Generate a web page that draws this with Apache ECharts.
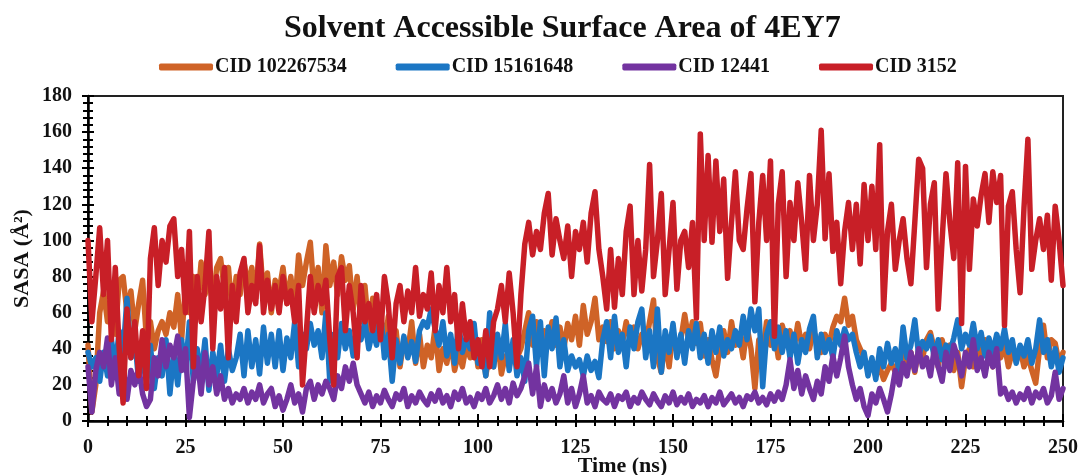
<!DOCTYPE html>
<html>
<head>
<meta charset="utf-8">
<script src="https://cdn.jsdelivr.net/npm/echarts@6/dist/echarts.min.js"></script>
<style>
  html, body { margin: 0; padding: 0; background: #fff; }
  #chart { width: 1079px; height: 475px; }
</style>
</head>
<body>
<div id="chart"></div>
<script>
// SASA (Å²) per ns, t = 0..250
const TIME_STEP = 1

const cid102267534 = [
  42, 5, 20, 60, 72, 55, 70, 48, 78, 80,
  60, 72, 50, 65, 78, 45, 55, 40, 50, 55,
  48, 60, 52, 70, 45, 75, 60, 80, 62, 88,
  70, 80, 65, 85, 90, 72, 85, 60, 80, 70,
  88, 75, 85, 68, 98, 70, 82, 60, 78, 72,
  85, 65, 80, 62, 92, 75, 88, 99, 70, 85,
  60, 97, 75, 88, 70, 91, 78, 86, 62, 80,
  55, 75, 50, 68, 45, 62, 40, 58, 35, 50,
  30, 45, 38, 55, 32, 48, 30, 42, 35, 52,
  28, 40, 32, 45, 28, 38, 30, 42, 35, 48,
  30, 45, 25, 38, 30, 45, 26, 36, 30, 42,
  35, 40, 50, 60, 42, 55, 38, 50, 45, 55,
  42, 52, 40, 54, 45, 58, 42, 64, 48, 55,
  68, 45, 52, 44, 55, 40, 50, 43, 55, 45,
  52, 40, 48, 42, 55, 67, 35, 27, 45, 30,
  50, 38, 45, 59, 45, 55, 43, 54, 36, 45,
  34, 25, 40, 50, 38, 55, 42, 48, 35, 52,
  40, 18, 45, 38, 55, 42, 50, 35, 53, 45,
  50, 40, 54, 42, 48, 40, 50, 44, 38, 48,
  42, 52, 58, 55, 68, 53, 58, 45, 40, 35,
  30, 32, 25, 30, 23, 28, 32, 27, 35, 43,
  30, 38, 27, 40, 35, 45, 49, 40, 30, 45,
  35, 42, 28, 38, 19, 35, 40, 30, 42, 35,
  45, 38, 30, 40, 35, 42, 30, 38, 33, 40,
  30, 36, 28, 21, 40, 53, 35, 45, 43, 32,
  38
]

const cid15161648 = [
  38, 30, 35, 22, 38, 25, 45, 30, 50, 38,
  68, 35, 45, 22, 40, 20, 42, 18, 35, 25,
  45, 15, 38, 20, 45, 28, 55, 22, 40, 25,
  45, 17, 38, 25, 42, 22, 40, 28, 35, 48,
  25, 50, 30, 45, 26, 52, 32, 48, 30, 50,
  28, 46, 35, 55, 30, 48, 40, 54, 42, 50,
  35, 60, 22, 48, 35, 54, 40, 50, 36, 52,
  45, 55, 40, 50, 42, 60, 35, 48, 22, 45,
  32, 47, 35, 44, 33, 50, 55, 52, 62, 51,
  42, 55, 36, 48, 32, 54, 38, 46, 40, 54,
  32, 40, 25, 60, 30, 48, 35, 54, 28, 45,
  25, 35, 22, 50, 58, 30, 55, 25, 52, 40,
  57, 30, 45, 28, 36, 30, 34, 25, 36, 28,
  33, 24, 45, 55, 35, 58, 38, 48, 30, 52,
  40, 55, 62, 35, 50, 30, 62, 27, 50, 38,
  54, 35, 48, 32, 50, 40, 54, 35, 48, 32,
  50, 38, 52, 36, 45, 40, 50, 42, 58, 45,
  62, 50, 62, 19, 48, 55, 40, 52, 38, 50,
  35, 48, 32, 45, 38, 51, 58, 35, 48, 38,
  45, 35, 50, 42, 51, 45, 48, 38, 30, 38,
  25, 35, 23, 40, 30, 43, 32, 40, 27, 52,
  35, 42, 56, 36, 44, 40, 47, 35, 45, 34,
  42, 38, 46, 56, 40, 48, 42, 54, 40, 49,
  36, 46, 38, 48, 40, 51, 38, 45, 32, 42,
  36, 45, 32, 40, 56, 38, 45, 30, 40, 27,
  35
]

const cid12441 = [
  30, 5, 28, 38, 30, 46, 20, 35, 15, 30,
  12, 28, 20, 30, 15, 8, 12, 35, 25, 45,
  30, 42, 35, 47, 28, 40, 2, 22, 35, 15,
  38, 20, 30, 15, 25, 12, 18, 10, 15, 12,
  18, 10, 16, 12, 20, 10, 15, 18, 8, 14,
  6, 12, 20, 10, 15, 5, 18, 22, 12, 20,
  15, 22, 18, 12, 25, 18, 30, 22, 32, 20,
  15, 10, 16, 8, 14, 10, 17, 12, 8, 15,
  12, 18, 8, 14, 10, 16, 12, 9, 15, 11,
  17, 10, 14, 8, 16, 12, 18, 10, 13, 8,
  15, 12, 18, 10, 14, 20, 12, 18, 10, 21,
  14, 18, 25, 32, 15, 30, 8, 20, 12, 18,
  10, 15, 25, 10, 18, 8, 15, 25, 10, 14,
  8, 16, 12, 10, 15, 8, 14, 12, 16, 8,
  13, 10, 16, 12, 9, 15, 11, 8, 14, 10,
  16, 9, 13, 10, 15, 8, 12, 10, 14, 8,
  13, 10, 16, 9, 12, 15, 10, 13, 8, 14,
  12, 16, 10, 13, 9, 15, 11, 16, 12, 20,
  34, 18, 28, 15, 25, 18, 12, 22, 15, 30,
  22, 36, 25, 35, 47, 30, 20, 12, 18, 8,
  3, 15, 10, 18, 12, 5, 15, 28, 20, 32,
  25, 38, 28, 40, 30, 35, 25, 40, 30, 22,
  38, 28, 42, 35, 25, 38, 30, 45, 28, 35,
  25, 38, 30, 40, 15, 18, 12, 16, 10, 15,
  12, 18, 10, 16, 13, 18, 10, 14, 27, 12,
  18
]

const cid3152 = [
  100, 55, 80, 107, 70, 100, 45, 85, 40, 10,
  62, 35, 55, 25, 50, 18, 90, 107, 75, 100,
  88, 108, 112, 80, 95, 60, 105, 30, 80, 55,
  75, 105, 40, 80, 62, 85, 35, 75, 55, 82,
  90, 60, 75, 65, 97, 60, 78, 62, 75, 60,
  80, 65, 72, 55, 75, 20, 50, 80, 60, 75,
  65, 78, 45, 20, 80, 85, 50, 75, 60, 35,
  75, 55, 65, 50, 70, 45, 80, 65, 35, 65,
  75, 55, 72, 60, 85, 58, 70, 62, 82, 50,
  75, 60, 85, 55, 70, 40, 65, 45, 55, 35,
  45, 30, 50, 30, 55, 62, 75, 55, 82, 60,
  30, 70, 98, 110, 92, 105, 95, 115, 126, 92,
  112, 100, 90, 108, 80, 105, 95, 110, 88, 115,
  127, 95, 80, 62, 95, 63, 90, 70, 105, 119,
  70, 100, 72, 95, 142, 80, 100, 126, 70, 95,
  121, 73, 100, 105, 85, 110, 57, 159, 100, 147,
  99, 144, 105, 134, 79, 110, 138, 100, 95, 118,
  137, 66, 110, 136, 100, 144, 47, 120, 138, 80,
  121, 100, 132, 110, 84, 136, 100, 120, 161, 101,
  137, 94, 110, 76, 105, 121, 95, 120, 87, 131,
  100, 130, 95, 153, 62, 105, 120, 84, 100, 112,
  90, 76, 110, 145, 140, 85, 120, 132, 62, 100,
  137, 110, 90, 143, 54, 141, 84, 123, 108, 125,
  137, 110, 138, 121, 136, 53, 119, 127, 95, 71,
  118, 156, 84, 100, 112, 95, 114, 78, 119, 100,
  75
]

const seriesNames = ['CID 102267534', 'CID 15161648', 'CID 12441', 'CID 3152']
const seriesValues = [cid102267534, cid15161648, cid12441, cid3152]
const seriesColors = ['#cf6327', '#1b76c4', '#7333a0', '#c81f27']

const FONT = "'Liberation Serif', 'Times New Roman', serif"

const toPoints = (values) => values.map((v, i) => [i * TIME_STEP, v])

const baseX = {
  type: 'value',
  min: 0,
  max: 250,
  interval: 25,
  splitLine: { show: false },
  minorTick: { show: true, splitNumber: 5, length: 5, lineStyle: { color: '#000', width: 2 } }
}

const baseY = {
  type: 'value',
  min: 0,
  max: 180,
  interval: 20,
  splitLine: { show: false },
  minorTick: { show: true, splitNumber: 5, length: 5, lineStyle: { color: '#000', width: 2 } }
}

const chart = echarts.init(document.getElementById('chart'))
chart.setOption({
  animation: false,
  backgroundColor: '#fff',
  title: {
    text: 'Solvent Accessible Surface Area of 4EY7',
    left: 279,
    top: 8,
    textStyle: { fontFamily: FONT, fontSize: 32, fontWeight: 'bold', color: '#111' }
  },
  legend: {
    top: 52,
    left: 154,
    itemWidth: 54,
    itemHeight: 7,
    itemGap: 49,
    icon: 'roundRect',
    data: seriesNames,
    textStyle: { fontFamily: FONT, fontSize: 20, fontWeight: 'bold', color: '#111', padding: [0, 0, 0, -3] }
  },
  grid: {
    left: 88,
    right: 16,
    top: 96,
    bottom: 54,
    outerBoundsMode: 'none',
    show: true,
    borderColor: '#222',
    borderWidth: 2
  },
  xAxis: [
    {
      ...baseX,
      position: 'bottom',
      name: 'Time (ns)',
      nameLocation: 'middle',
      nameGap: 34,
      nameMoveOverlap: false,
      nameTextStyle: { fontFamily: FONT, fontSize: 22, fontWeight: 'bold', color: '#111', padding: [0, 0, 0, 94] },
      axisLine: { show: true, lineStyle: { color: '#000', width: 2.5 } },
      axisTick: { show: true, inside: false, length: 6, lineStyle: { color: '#000', width: 2 } },
      axisLabel: { fontFamily: FONT, fontSize: 20, fontWeight: 'bold', color: '#111', margin: 17 }
    },
    {
      ...baseX,
      position: 'bottom',
      axisLine: { show: false },
      axisTick: { show: true, inside: true, length: 7, lineStyle: { color: '#000', width: 2 } },
      axisLabel: { show: false }
    }
  ],
  yAxis: [
    {
      ...baseY,
      position: 'left',
      name: 'SASA (Å²)',
      nameLocation: 'middle',
      nameRotate: 90,
      nameGap: 55,
      nameMoveOverlap: false,
      nameTextStyle: { fontFamily: FONT, fontSize: 22, fontWeight: 'bold', color: '#111' },
      axisLine: { show: true, lineStyle: { color: '#000', width: 2.5 } },
      axisTick: { show: true, inside: false, length: 6, lineStyle: { color: '#000', width: 2 } },
      axisLabel: { fontFamily: FONT, fontSize: 20, fontWeight: 'bold', color: '#111', margin: 16 }
    },
    {
      ...baseY,
      position: 'left',
      axisLine: { show: false },
      axisTick: { show: true, inside: true, length: 6, lineStyle: { color: '#000', width: 2 } },
      axisLabel: { show: false }
    }
  ],
  series: seriesNames.map((name, k) => ({
    name,
    type: 'line',
    xAxisIndex: 0,
    yAxisIndex: 0,
    data: toPoints(seriesValues[k]),
    showSymbol: false,
    symbol: 'none',
    color: seriesColors[k],
    lineStyle: { width: 5.5, color: seriesColors[k], join: 'round', cap: 'round' },
    z: 2 + k
  }))
})
</script>
</body>
</html>
